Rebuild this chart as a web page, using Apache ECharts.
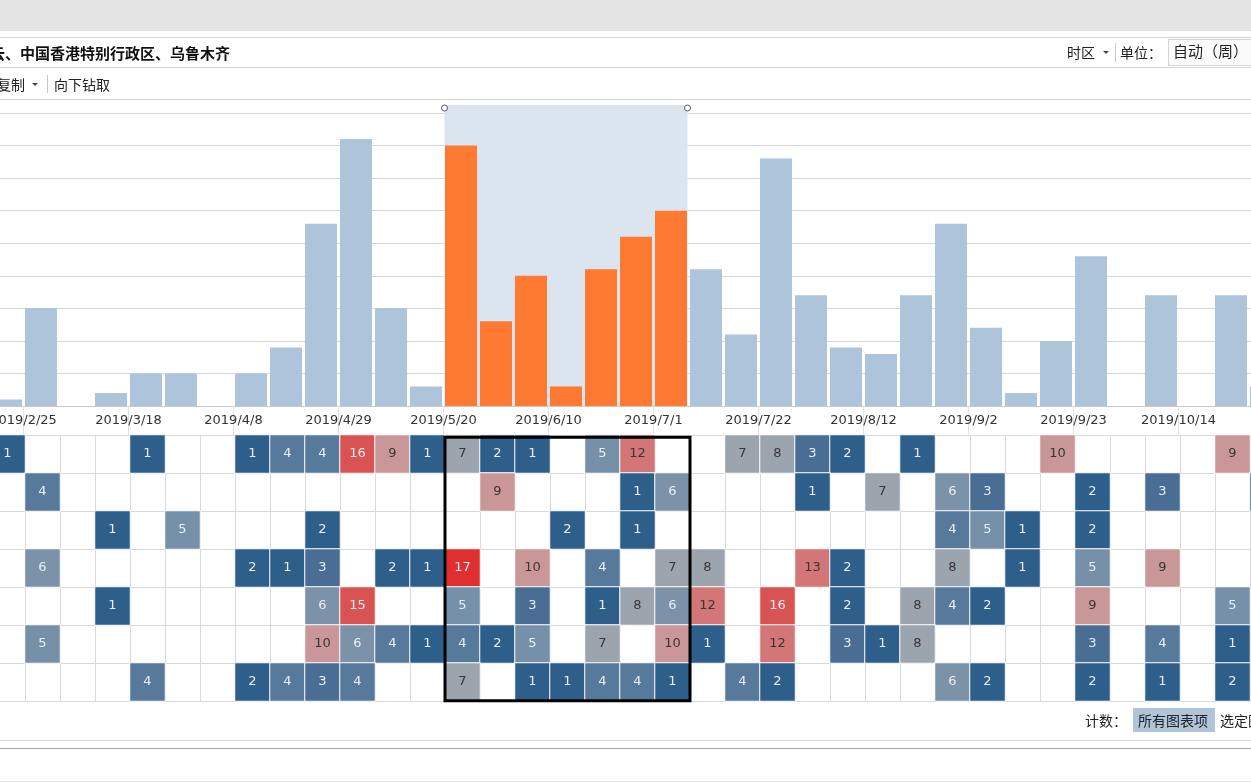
<!DOCTYPE html>
<html><head><meta charset="utf-8">
<script src="https://cdn.jsdelivr.net/npm/echarts@6/dist/echarts.min.js"></script>
<style>
html,body{margin:0;padding:0;width:1251px;height:782px;overflow:hidden;background:#fff;font-family:"Noto Sans CJK SC",sans-serif;}
#chart{position:absolute;left:0;top:0;width:1251px;height:782px;z-index:0;}
.ui{position:absolute;z-index:2;}
.hl{position:absolute;left:0;width:1251px;height:1px;z-index:2;}
.t{position:absolute;white-space:nowrap;color:#222;font-size:14px;line-height:16px;z-index:2;}
.vl{position:absolute;width:1px;background:#c8c8c8;z-index:2;}
.tri{position:absolute;width:0;height:0;border-left:3px solid transparent;border-right:3px solid transparent;border-top:3px solid #444;z-index:2;}
</style></head>
<body>
<div id="chart"></div>
<div class="ui" style="left:0;top:0;width:1251px;height:31px;background:#e4e4e4;"></div>
<div class="hl" style="top:37px;background:#d4d4d4;"></div>
<div class="t" style="left:-10px;top:45px;font-size:15px;font-weight:bold;color:#111;">云、中国香港特别行政区、乌鲁木齐</div>
<div class="t" style="left:1067px;top:44px;">时区</div>
<div class="tri" style="left:1103px;top:51px;"></div>
<div class="vl" style="left:1115px;top:43px;height:19px;"></div>
<div class="t" style="left:1120px;top:44px;">单位：</div>
<div class="ui" style="left:1168px;top:39px;width:90px;height:25px;border:1px solid #d4d4d4;background:#fbfbfb;"></div>
<div class="t" style="left:1173px;top:43px;font-size:15px;">自动（周）</div>
<div class="hl" style="top:67px;background:#d4d4d4;"></div>
<div class="t" style="left:-3px;top:76px;">复制</div>
<div class="tri" style="left:32px;top:83px;"></div>
<div class="vl" style="left:47px;top:75px;height:18px;"></div>
<div class="t" style="left:54px;top:76px;">向下钻取</div>
<div class="hl" style="top:99px;background:#d4d4d4;"></div>
<div class="t" style="left:1085px;top:712px;">计数：</div>
<div class="ui" style="left:1133px;top:708px;width:82px;height:24px;background:#b0c5da;"></div>
<div class="t" style="left:1138px;top:712px;">所有图表项</div>
<div class="t" style="left:1220px;top:712px;">选定图表项</div>
<div class="hl" style="top:740px;background:#d8d8d8;"></div>
<div class="hl" style="top:748px;background:#a6a6a6;"></div>
<div class="hl" style="top:781px;background:#e2e2e2;"></div>
<script>
// ---- data ----
const weeks = ['2019/2/18','2019/2/25','2019/3/4','2019/3/11','2019/3/18','2019/3/25','2019/4/1','2019/4/8','2019/4/15','2019/4/22','2019/4/29','2019/5/6','2019/5/13','2019/5/20','2019/5/27','2019/6/3','2019/6/10','2019/6/17','2019/6/24','2019/7/1','2019/7/8','2019/7/15','2019/7/22','2019/7/29','2019/8/5','2019/8/12','2019/8/19','2019/8/26','2019/9/2','2019/9/9','2019/9/16','2019/9/23','2019/9/30','2019/10/7','2019/10/14','2019/10/21','2019/10/28'];
const days = ['星期一','星期二','星期三','星期四','星期五','星期六','星期日'];
const weeklyTotals = [1,15,0,2,5,5,0,5,9,28,41,15,3,40,13,20,3,21,26,30,21,11,38,17,9,8,17,28,12,2,10,23,0,17,0,17,3];
const countMon = [1,0,0,0,1,0,0,1,4,4,16,9,1,7,2,1,0,5,12,0,0,7,8,3,2,0,1,0,0,0,10,0,0,0,0,9,0];
const countTue = [0,4,0,0,0,0,0,0,0,0,0,0,0,0,9,0,0,0,1,6,0,0,0,1,0,7,0,6,3,0,0,2,0,3,0,0,3];
const countWed = [0,0,0,1,0,5,0,0,0,2,0,0,0,0,0,0,2,0,1,0,0,0,0,0,0,0,0,4,5,1,0,2,0,0,0,0,0];
const countThu = [0,6,0,0,0,0,0,2,1,3,0,2,1,17,0,10,0,4,0,7,8,0,0,13,2,0,0,8,0,1,0,5,0,9,0,0,0];
const countFri = [0,0,0,1,0,0,0,0,0,6,15,0,0,5,0,3,0,1,8,6,12,0,16,0,2,0,8,4,2,0,0,9,0,0,0,5,0];
const countSat = [0,5,0,0,0,0,0,0,0,10,6,4,1,4,2,5,0,7,0,10,1,0,12,0,3,1,8,0,0,0,0,3,0,4,0,1,0];
const countSun = [0,0,0,0,4,0,0,2,4,3,4,0,0,7,0,1,1,4,4,1,0,4,2,0,0,0,0,6,2,0,0,2,0,1,0,2,0];
const selStart = '2019/5/20';
const selEnd = '2019/7/1';
const yTicks = [0, 45, 5]; // min, max, interval

// ---- build ----
const rows = [countMon, countTue, countWed, countThu, countFri, countSat, countSun];
const sIdx = weeks.indexOf(selStart), eIdx = weeks.indexOf(selEnd);
const heat = [];
rows.forEach((r, ri) => r.forEach((v, ci) => {
  if (v > 0) heat.push({value: [ci, ri, v], label: {color: (v >= 7 && v <= 13) ? '#3b3535' : '#e9eff5'}});
}));
const bars = weeklyTotals.map((v, i) => ({value: v, itemStyle: {color: (i >= sIdx && i <= eIdx) ? '#fe7a32' : '#adc4da'}}));
const showEvery3 = (i) => i % 3 === 1;
const BW = 35;

const chart = echarts.init(document.getElementById('chart'));
chart.setOption({
  animation: false,
  grid: [
    {left: -11.5, top: 113, width: BW * weeks.length, height: 293, containLabel: false, outerBoundsMode: 'none'},
    {left: -10, top: 435, width: BW * weeks.length, height: 266, containLabel: false, outerBoundsMode: 'none'}
  ],
  xAxis: [
    {type: 'category', gridIndex: 0, data: weeks, boundaryGap: true,
     axisLine: {lineStyle: {color: '#c9c9c9'}},
     axisTick: {show: true, interval: showEvery3, length: 29, lineStyle: {color: '#e2e2e2'}},
     axisLabel: {interval: showEvery3, padding: [0, 35, 0, 0], margin: 8, fontSize: 13, color: '#333', fontFamily: 'DejaVu Sans'},
     splitLine: {show: false}},
    {type: 'category', gridIndex: 1, data: weeks, boundaryGap: true,
     axisLine: {show: false}, axisTick: {show: false}, axisLabel: {show: false},
     splitLine: {show: true, interval: 0, lineStyle: {color: '#d9d9d9'}}}
  ],
  yAxis: [
    {type: 'value', gridIndex: 0, min: yTicks[0], max: yTicks[1], interval: yTicks[2],
     axisLine: {show: false}, axisTick: {show: false}, axisLabel: {show: false},
     splitLine: {lineStyle: {color: '#d6d6d6'}}},
    {type: 'category', gridIndex: 1, data: days, inverse: true, boundaryGap: true,
     axisLine: {show: false}, axisTick: {show: false}, axisLabel: {show: false},
     splitLine: {show: true, interval: 0, lineStyle: {color: '#d9d9d9'}}}
  ],
  visualMap: {
    type: 'piecewise', show: false, seriesIndex: 2, dimension: 2,
    pieces: [
      {gte: 1, lte: 2, color: '#2e5e8a'},
      {gte: 3, lte: 3, color: '#4a6e93'},
      {gte: 4, lte: 4, color: '#56799c'},
      {gte: 5, lte: 5, color: '#7690a9'},
      {gte: 6, lte: 6, color: '#7c92a8'},
      {gte: 7, lte: 8, color: '#9ca5ae'},
      {gte: 9, lte: 10, color: '#c99797'},
      {gte: 11, lte: 13, color: '#d27677'},
      {gte: 14, lte: 16, color: '#d95352'},
      {gte: 17, lte: 999, color: '#df2f2f'}
    ]
  },
  series: [
    {type: 'custom', xAxisIndex: 0, yAxisIndex: 0, z: 1, silent: true,
     data: [[sIdx, 0, eIdx]], encode: {x: 0, y: 1},
     renderItem: (params, api) => {
       const a = api.coord([api.value(0), 0]);
       const b = api.coord([api.value(2), 0]);
       const top = api.coord([0, yTicks[1]])[1] - 8;
       const l = a[0] - 16.5, r = b[0] + 16.5;
       return {type: 'group', children: [
         {type: 'rect', shape: {x: l, y: top, width: r - l, height: a[1] - top}, style: {fill: '#dae5ef'}},
         {type: 'circle', shape: {cx: l, cy: top + 3, r: 3}, style: {fill: '#fff', stroke: '#505a66', lineWidth: 1}},
         {type: 'circle', shape: {cx: r, cy: top + 3, r: 3}, style: {fill: '#fff', stroke: '#505a66', lineWidth: 1}}
       ]};
     }},
    {type: 'bar', xAxisIndex: 0, yAxisIndex: 0, z: 3, barWidth: 32, data: bars, silent: true},
    {type: 'heatmap', xAxisIndex: 1, yAxisIndex: 1, data: heat, silent: true,
     itemStyle: {borderColor: '#fff', borderWidth: 1},
     label: {show: true, fontSize: 13, fontFamily: 'DejaVu Sans'}},
    {type: 'custom', xAxisIndex: 1, yAxisIndex: 1, z: 10, silent: true,
     data: [[sIdx, 0, eIdx]], encode: {x: 0, y: 1},
     renderItem: (params, api) => {
       const sz = api.size([1, 1]);
       const a = api.coord([api.value(0), 0]);
       const b = api.coord([api.value(2), days.length - 1]);
       const l = a[0] - sz[0] / 2, r = b[0] + sz[0] / 2;
       const t = a[1] - sz[1] / 2 + 2.3, btm = b[1] + sz[1] / 2 - 0.3;
       return {type: 'rect', shape: {x: l, y: t, width: r - l, height: btm - t},
               style: {fill: null, stroke: '#000', lineWidth: 3}};
     }}
  ]
});
</script>
</body></html>
